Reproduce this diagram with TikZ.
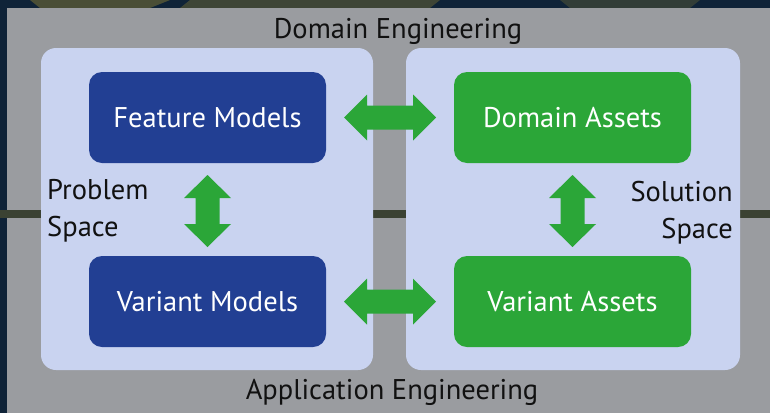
\documentclass[tikz,border=0pt]{standalone}
\usepackage{fontspec}
\setmainfont{PT Sans}
\usetikzlibrary{calc}
\definecolor{navybg}{HTML}{0F2338}
\definecolor{olivebg}{HTML}{4A4E36}
\definecolor{bandc}{HTML}{3B4233}
\definecolor{grayc}{HTML}{9A9CA0}
\definecolor{lightc}{HTML}{C9D3F0}
\definecolor{bluec}{HTML}{223F93}
\definecolor{greenc}{HTML}{2BA638}
\definecolor{textc}{HTML}{111111}
\tikzset{
  panel/.style={fill=lightc, draw=none, rounded corners=15pt},
  bluebox/.style={fill=bluec, draw=none, rounded corners=13pt, minimum width=237pt, minimum height=91pt, text=white, font=\fontsize{28.5}{30}\selectfont, inner sep=0pt},
  greenbox/.style={bluebox, fill=greenc},
  lbl/.style={text=textc, font=\fontsize{28.5}{37}\selectfont, inner sep=0pt},
  blockarrow/.style={fill=greenc, draw=none}
}
\begin{document}
\begin{tikzpicture}[x=1pt,y=-1pt]
\useasboundingbox (0,0) rectangle (770,413);
% photographic background
\fill[navybg] (0,0) rectangle (770,413);
\fill[olivebg] (30,0) -- (170,0) -- (150,8) -- (40,8) -- cycle;
\fill[olivebg!80!navybg] (190,0) -- (440,0) -- (430,8) -- (180,8) -- cycle;
\fill[olivebg!60!navybg] (560,0) -- (700,0) -- (690,8) -- (570,8) -- cycle;
\fill[bandc] (0,210) rectangle (770,218);
% gray regions
\fill[grayc] (7,8) rectangle (770,210);
\fill[grayc] (7,218) rectangle (770,413);
% panels
\fill[panel] (41,48) rectangle (373,370);
\fill[panel] (406,48) rectangle (740,370);
% boxes
\node[bluebox]  (fm) at (207.5,117.5) {Feature Models};
\node[bluebox]  (vm) at (207.5,301.5) {Variant Models};
\node[greenbox] (da) at (572.5,117.5) {Domain Assets};
\node[greenbox] (va) at (572.5,301.5) {Variant Assets};
% labels
\node[lbl] (de) at (398,31) {Domain Engineering};
\node[lbl] (ae) at (392,392) {Application Engineering};
\node[lbl, anchor=west, align=left] (ps) at (47,211) {Problem\\Space};
\node[lbl, anchor=east, align=right] (ss) at (733,213) {Solution\\Space};
% horizontal double arrows
\foreach \a/\b in {fm/da, vm/va}{
  \fill[blockarrow] ($(\a.east)!0.5!(\b.west)$) ++(-46,0) -- ++(23,-23) -- ++(0,11) -- ++(46,0) -- ++(0,-11) -- ++(23,23) -- ++(-23,23) -- ++(0,-11) -- ++(-46,0) -- ++(0,11) -- cycle;
}
% vertical double arrows
\foreach \a/\b in {fm/vm, da/va}{
  \fill[blockarrow] ($(\a.south)!0.5!(\b.north)+(0,1.5)$) ++(0,-36) -- ++(23.5,23) -- ++(-11.5,0) -- ++(0,26) -- ++(11.5,0) -- ++(-23.5,23) -- ++(-23.5,-23) -- ++(11.5,0) -- ++(0,-26) -- ++(-11.5,0) -- cycle;
}
\end{tikzpicture}
\end{document}
